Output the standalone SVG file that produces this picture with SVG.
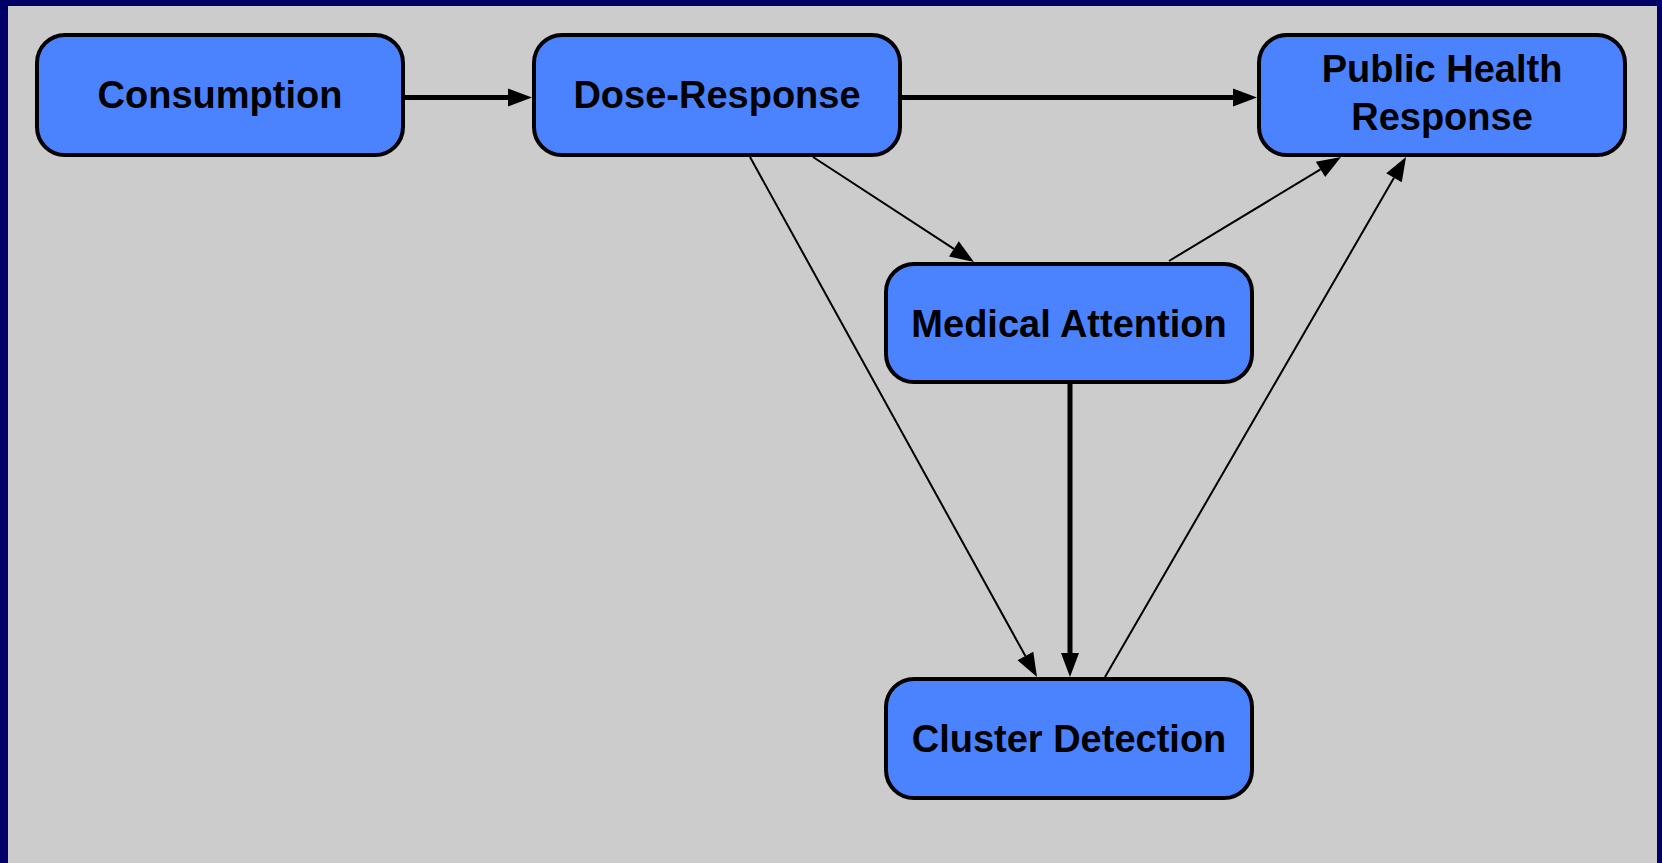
<svg xmlns="http://www.w3.org/2000/svg" width="1662" height="863" viewBox="0 0 1662 863">
<defs>
<style>
.box{fill:#4B83FF;stroke:#000;stroke-width:4}
.lbl{font-family:"Liberation Sans",Arial,sans-serif;font-weight:bold;font-size:38px;fill:#000;text-anchor:middle}
.thick{stroke:#000;stroke-width:5;fill:none}
.thin{stroke:#000;stroke-width:2;fill:none}
</style>
<marker id="ah" markerUnits="userSpaceOnUse" markerWidth="26" markerHeight="20" refX="0" refY="9" orient="auto" overflow="visible">
<path d="M0,0 L24,9 L0,18 Z" fill="#000"/>
</marker>
</defs>
<rect x="0" y="0" width="1662" height="863" fill="#000066"/>
<rect x="8" y="6" width="1649" height="857" fill="#CCCCCC"/>
<g id="connectors">
<line class="thick" x1="405" y1="97.5" x2="508" y2="97.5" marker-end="url(#ah)"/>
<line class="thick" x1="902" y1="97.5" x2="1233" y2="97.5" marker-end="url(#ah)"/>
<line class="thin" x1="813" y1="157" x2="953.9" y2="248.9" marker-end="url(#ah)"/>
<line class="thin" x1="750" y1="157" x2="1025.4" y2="656" marker-end="url(#ah)"/>
<line class="thick" x1="1070" y1="383" x2="1070" y2="653" marker-end="url(#ah)"/>
<line class="thin" x1="1169" y1="261" x2="1320.5" y2="169.4" marker-end="url(#ah)"/>
<line class="thin" x1="1105" y1="677" x2="1394" y2="177.8" marker-end="url(#ah)"/>
</g>
<g id="consumption">
<rect class="box" x="37" y="35" width="366" height="120" rx="28" ry="28"/>
<text class="lbl" x="220" y="108">Consumption</text>
</g>
<g id="dose-response">
<rect class="box" x="534" y="35" width="366" height="120" rx="28" ry="28"/>
<text class="lbl" x="717" y="108">Dose-Response</text>
</g>
<g id="public-health-response">
<rect class="box" x="1259" y="35" width="366" height="120" rx="28" ry="28"/>
<text class="lbl" x="1442" y="82">Public Health</text>
<text class="lbl" x="1442" y="130">Response</text>
</g>
<g id="medical-attention">
<rect class="box" x="886" y="264" width="366" height="118" rx="28" ry="28"/>
<text class="lbl" x="1069" y="337">Medical Attention</text>
</g>
<g id="cluster-detection">
<rect class="box" x="886" y="679" width="366" height="119" rx="28" ry="28"/>
<text class="lbl" x="1069" y="752">Cluster Detection</text>
</g>
</svg>
